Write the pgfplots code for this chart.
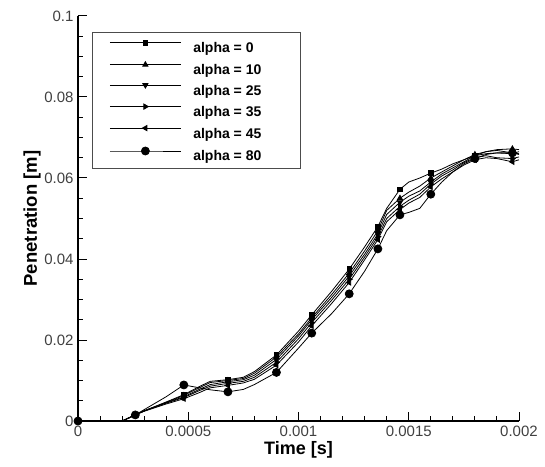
\documentclass[border=0pt]{standalone}
\usepackage{pgfplots}
\pgfplotsset{compat=1.18}
\usepackage{fontspec}
\setmainfont{Liberation Sans}
\pgfplotstableread{
x       a0      a10     a25     a35     a45     a80
0       0       0       0       0       0       0
0.0002  0       0       0       0       0       0
0.00026 0.0015  0.0015  0.0015  0.0015  0.0015  0.0015
0.0003  0.0025  0.0025  0.0025  0.0025  0.0024  0.0028
0.0004  0.0047  0.0046  0.0045  0.0044  0.0042  0.0060
0.00048 0.0065  0.0063  0.0060  0.0058  0.0055  0.0089
0.00055 0.0085  0.0082  0.0078  0.0075  0.0070  0.0082
0.0006  0.0098  0.0095  0.0090  0.0086  0.0082  0.0077
0.00068 0.0102  0.0100  0.0097  0.0093  0.0088  0.0072
0.00075 0.0108  0.0105  0.0102  0.0098  0.0094  0.0078
0.0008  0.0122  0.0118  0.0113  0.0108  0.0103  0.0090
0.0009  0.0163  0.0158  0.0152  0.0145  0.0138  0.0120
0.001   0.0222  0.0215  0.0210  0.0203  0.0195  0.0180
0.00106 0.0262  0.0255  0.0250  0.0243  0.0235  0.0217
0.00115 0.0320  0.0312  0.0305  0.0298  0.0290  0.0265
0.00123 0.0375  0.0365  0.0358  0.0350  0.0342  0.0314
0.0013  0.0430  0.0420  0.0412  0.0405  0.0398  0.0370
0.00136 0.0480  0.0470  0.0462  0.0455  0.0448  0.0425
0.0014  0.0525  0.0520  0.0510  0.0500  0.0492  0.0470
0.00146 0.0572  0.0550  0.0540  0.0530  0.0522  0.0509
0.0015  0.0590  0.0565  0.0555  0.0545  0.0538  0.0515
0.00155 0.0600  0.0580  0.0568  0.0560  0.0552  0.0525
0.0016  0.0612  0.0600  0.0590  0.0585  0.0578  0.0560
0.00165 0.0622  0.0615  0.0610  0.0605  0.0598  0.0590
0.0017  0.0635  0.0630  0.0625  0.0620  0.0615  0.0615
0.00175 0.0645  0.0645  0.0640  0.0638  0.0632  0.0635
0.0018  0.0655  0.0658  0.0655  0.0650  0.0645  0.0648
0.00185 0.0665  0.0665  0.0660  0.0655  0.0650  0.0658
0.0019  0.0668  0.0670  0.0662  0.0650  0.0648  0.0662
0.00197 0.0662  0.0672  0.0660  0.0648  0.0640  0.0662
0.002   0.0658  0.0670  0.0665  0.0652  0.0645  0.0660
}\data
\begin{document}
\begin{tikzpicture}
\begin{axis}[
  name=ax,
  scale only axis,
  width=441pt, height=405pt,
  xmin=0, xmax=0.002, ymin=0, ymax=0.1,
  axis x line*=bottom, axis y line*=left,
  axis line style={line width=1.6pt,-},
  tick align=inside,
  scaled x ticks=false, scaled y ticks=false,
  xtick={0,0.0005,0.001,0.0015,0.002},
  xticklabels={0,0.0005,0.001,0.0015,0.002},
  ytick={0,0.02,0.04,0.06,0.08,0.1},
  yticklabels={0,0.02,0.04,0.06,0.08,0.1},
  minor x tick num=4, minor y tick num=3,
  major tick length=9pt, minor tick length=5pt,
  every tick/.style={black,line width=1pt},
  tick label style={font=\fontsize{15}{17}\selectfont, text=black!75},
  xticklabel style={yshift=-1pt},
  yticklabel style={xshift=-1pt},
  xlabel={Time [s]},
  ylabel={Penetration [m]},
  every axis x label/.style={at={(axis description cs:0.5,-0.0716)}, anchor=center, font=\bfseries\fontsize{18}{20}\selectfont},
  every axis y label/.style={at={(axis description cs:-0.1043,0.5)}, rotate=90, anchor=center, font=\bfseries\fontsize{18.5}{20}\selectfont},
  legend style={at={(axis description cs:0.0317,0.9605)}, anchor=north west,
    draw=black!70, line width=1pt, inner xsep=17pt, inner ysep=8pt,
    font=\bfseries\fontsize{14}{16}\selectfont,
    nodes={inner sep=0pt, text height=10pt, text depth=0pt},
    row sep=8.9pt, column sep=12pt},
  legend cell align=left,
  legend image code/.code={\draw[#1, mark indices={2}] plot coordinates {(0pt,5pt) (35.5pt,5pt) (71pt,5pt)};},
  every axis plot/.append style={black, line width=0.8pt, mark indices={1,3,6,9,12,14,16,18,20,23,27,30}},
  clip=false,
]
\addplot[mark=square*, mark size=2.3pt] table[x=x,y=a0] {\data};
\addlegendentry{alpha = 0}
\addplot[mark=triangle*, mark size=3pt] table[x=x,y=a10] {\data};
\addlegendentry{alpha = 10}
\addplot[mark=triangle*, mark size=3pt, mark options={rotate=180}] table[x=x,y=a25] {\data};
\addlegendentry{alpha = 25}
\addplot[mark=triangle*, mark size=3pt, mark options={rotate=-90}] table[x=x,y=a35] {\data};
\addlegendentry{alpha = 35}
\addplot[mark=triangle*, mark size=3pt, mark options={rotate=90}] table[x=x,y=a45] {\data};
\addlegendentry{alpha = 45}
\addplot[mark=*, mark size=4pt] table[x=x,y=a80] {\data};
\addlegendentry{alpha = 80\rule{22pt}{0pt}}
\end{axis}
\path ([xshift=-78pt,yshift=-45pt]ax.south west) rectangle ([xshift=26pt,yshift=16pt]ax.north east);
\end{tikzpicture}
\end{document}
